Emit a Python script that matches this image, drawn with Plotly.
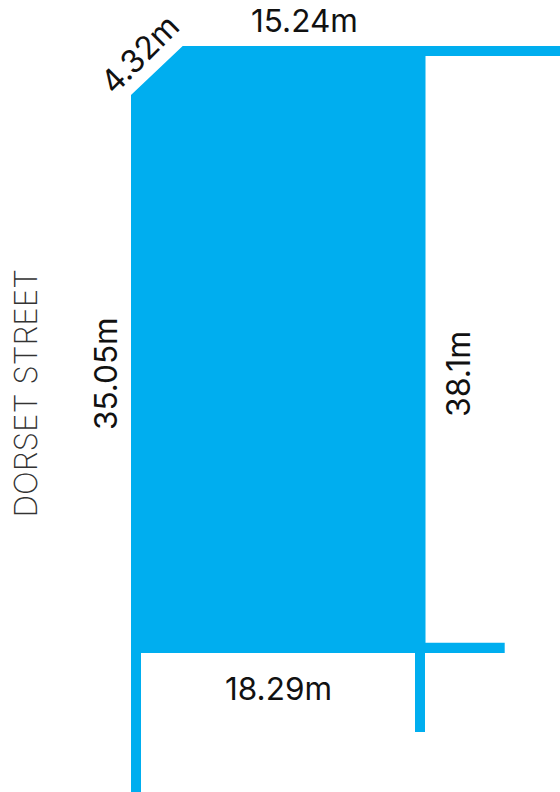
import plotly.graph_objects as go

# Site outline (plan units = picture pixels)
parcel_x = [131, 182.7, 560, 560, 425.5, 425.5, 504.7, 504.7, 425, 425, 415, 415, 141, 141, 131, 131]
parcel_y = [95, 46, 46, 56, 56, 642.7, 642.7, 653, 653, 732, 732, 653, 653, 792, 792, 95]

# Labels
label_text = ["15.24m", "4.32m", "35.05m", "38.1m", "18.29m", "DORSET STREET"]
label_x = [304, 139, 105, 458, 278, 25]
label_y = [20, 54.5, 374, 374, 688, 393.5]
label_angle = [0, -45, -90, -90, 0, -90]
label_size = [31.5, 32, 31.5, 32, 31.5, 31.5]
label_weight = [400, 400, 400, 400, 400, 250]
label_color = ["#111111"] * 5 + ["#333333"]

BLUE = "#00AEEF"

fig = go.Figure()
fig.add_trace(go.Scatter(
    x=parcel_x, y=parcel_y, mode="lines", fill="toself",
    fillcolor=BLUE, line=dict(width=0, color=BLUE), hoverinfo="skip",
))

for t, x, y, a, s, w, c in zip(label_text, label_x, label_y, label_angle,
                               label_size, label_weight, label_color):
    fig.add_annotation(
        x=x, y=y, text=t, textangle=a, showarrow=False,
        xanchor="center", yanchor="middle",
        font=dict(family="Inter", size=s, weight=w, color=c),
    )

fig.update_xaxes(range=[0, 560], visible=False, fixedrange=True)
fig.update_yaxes(range=[792, 0], visible=False, fixedrange=True)
fig.update_layout(
    width=560, height=792, margin=dict(l=0, r=0, t=0, b=0),
    paper_bgcolor="white", plot_bgcolor="white", showlegend=False,
)
fig.write_html("out.html", config={"displayModeBar": False},
               post_script="document.body.style.margin='0';document.body.style.overflow='hidden';")
